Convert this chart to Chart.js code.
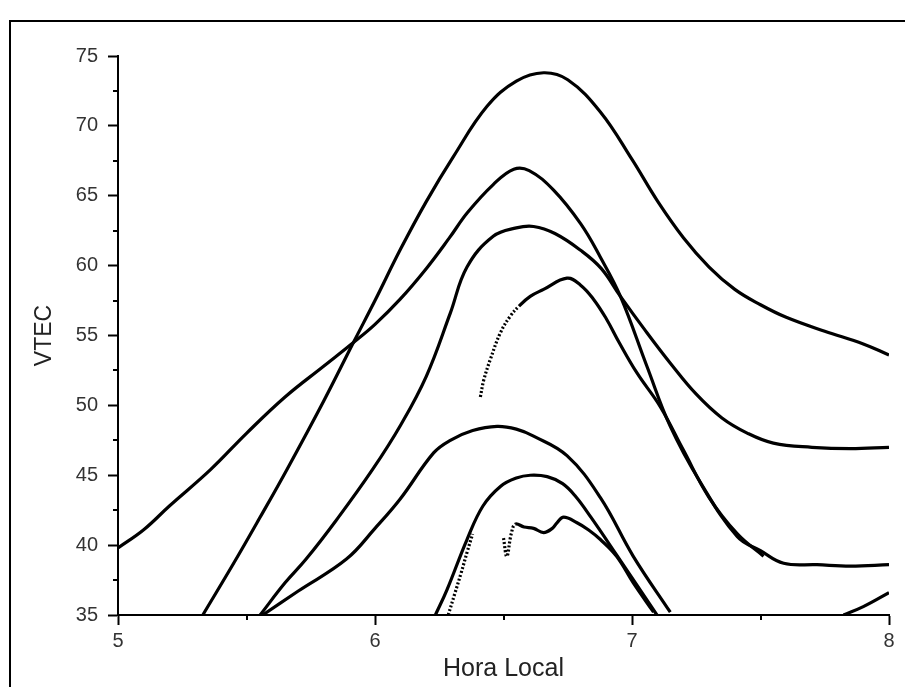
<!DOCTYPE html>
<html>
<head>
<meta charset="utf-8">
<script src="https://cdn.jsdelivr.net/npm/chart.js@4/dist/chart.umd.min.js"></script>
<style>
  html, body { margin: 0; padding: 0; background: #fff; }
  #wrap { width: 905px; height: 687px; }
</style>
</head>
<body>
<div id="wrap"><canvas id="c" width="905" height="687"></canvas></div>
<script>
// Vertical TEC passes, local hour vs. VTEC (TECU)
const passA_hora = [5.0, 5.1, 5.2, 5.36, 5.5, 5.65, 5.8, 5.916, 6.0, 6.098, 6.2, 6.29, 6.36, 6.46, 6.54, 6.6, 6.695, 6.8, 6.877, 6.955, 7.058, 7.149, 7.266, 7.41, 7.5, 7.59, 7.72, 7.85, 8.0];
const passA_vtec = [39.8, 41.1, 42.8, 45.4, 48.0, 50.6, 52.8, 54.5, 55.8, 57.6, 59.8, 62.0, 63.8, 65.8, 66.9, 66.8, 65.4, 63.0, 60.6, 57.8, 52.8, 48.5, 44.5, 40.6, 39.6, 38.7, 38.6, 38.5, 38.6];

const passB_hora = [5.33, 5.45, 5.55, 5.657, 5.8, 5.916, 6.0, 6.1, 6.2, 6.305, 6.436, 6.55, 6.656, 6.75, 6.877, 7.0, 7.1, 7.2, 7.3, 7.4, 7.5, 7.6, 7.75, 7.9, 8.0];
const passB_vtec = [35.0, 38.7, 41.9, 45.4, 50.3, 54.5, 57.5, 61.2, 64.6, 67.8, 71.4, 73.2, 73.8, 73.3, 71.0, 67.6, 64.6, 62.0, 59.9, 58.3, 57.2, 56.3, 55.3, 54.4, 53.6];

const passC_hora = [5.553, 5.65, 5.732, 5.85, 5.99, 6.1, 6.2, 6.293, 6.358, 6.46, 6.55, 6.617, 6.7, 6.8, 6.88, 6.955, 7.05, 7.15, 7.25, 7.35, 7.45, 7.55, 7.7, 7.85, 8.0];
const passC_vtec = [35.0, 37.3, 39.0, 41.8, 45.4, 48.6, 52.1, 56.6, 59.9, 62.1, 62.7, 62.8, 62.3, 61.1, 59.8, 57.8, 55.4, 53.0, 50.8, 49.1, 48.0, 47.3, 47.0, 46.9, 47.0];

const passD_hora = [6.41, 6.423, 6.449, 6.488, 6.527, 6.56, 6.604, 6.656, 6.747, 6.8, 6.85, 6.9, 6.95, 7.02, 7.11, 7.2, 7.3, 7.41, 7.512];
const passD_vtec = [50.6, 51.8, 53.3, 55.2, 56.4, 57.1, 57.8, 58.3, 59.1, 58.6, 57.6, 56.2, 54.5, 52.3, 49.9, 46.8, 43.4, 40.8, 39.2];

const passE_hora = [5.563, 5.7, 5.889, 6.0, 6.098, 6.228, 6.293, 6.38, 6.475, 6.55, 6.617, 6.747, 6.877, 7.005, 7.149];
const passE_vtec = [35.0, 36.7, 39.0, 41.2, 43.3, 46.6, 47.5, 48.2, 48.5, 48.3, 47.8, 46.4, 43.4, 39.2, 35.2];

const passF_hora = [6.235, 6.28, 6.358, 6.42, 6.488, 6.55, 6.604, 6.67, 6.73, 6.78, 6.84, 6.94, 7.097];
const passF_vtec = [35.0, 36.8, 40.4, 42.8, 44.2, 44.8, 45.0, 44.9, 44.4, 43.5, 42.0, 39.3, 35.0];

const passG_hora = [6.285, 6.31, 6.335, 6.36, 6.38];
const passG_vtec = [35.0, 36.5, 38.0, 39.6, 40.8];

const passH_hora = [6.5, 6.513, 6.53, 6.546, 6.58, 6.617, 6.656, 6.69, 6.708, 6.734, 6.786, 6.83, 6.877, 6.94, 7.005, 7.084];
const passH_vtec = [40.5, 39.2, 40.8, 41.5, 41.3, 41.2, 40.9, 41.2, 41.6, 42.0, 41.6, 41.1, 40.4, 39.2, 37.3, 35.2];

const passI_hora = [7.823, 7.9, 8.0];
const passI_vtec = [35.0, 35.6, 36.6];

const horaTicks = [5, 6, 7, 8];
const vtecTicks = [35, 40, 45, 50, 55, 60, 65, 70, 75];

const toPoints = (h, v) => h.map((x, i) => ({ x, y: v[i] }));

// sparse sampling at the start of some passes is drawn dotted
const dottedBelow = limit => ({
  borderDash: ctx => (ctx.p1.parsed.x <= limit ? [2, 2] : undefined)
});

const passes = [
  { h: passA_hora, v: passA_vtec },
  { h: passB_hora, v: passB_vtec },
  { h: passC_hora, v: passC_vtec },
  { h: passD_hora, v: passD_vtec, dotted: 6.56 },
  { h: passE_hora, v: passE_vtec },
  { h: passF_hora, v: passF_vtec },
  { h: passG_hora, v: passG_vtec, dotted: 9 },
  { h: passH_hora, v: passH_vtec, dotted: 6.55 },
  { h: passI_hora, v: passI_vtec }
];

const datasets = passes.map(p => ({
  data: toPoints(p.h, p.v),
  showLine: true,
  borderColor: '#000',
  borderWidth: 3.2,
  pointRadius: 0,
  tension: 0.4,
  segment: p.dotted ? dottedBelow(p.dotted) : undefined
}));

// outer frame and white page
const framePlugin = {
  id: 'frame',
  beforeDraw(chart) {
    const { ctx, width, height } = chart;
    ctx.save();
    ctx.fillStyle = '#fff';
    ctx.fillRect(0, 0, width, height);
    ctx.strokeStyle = '#000';
    ctx.lineWidth = 2;
    ctx.strokeRect(10, 21, width + 20, height + 20);
    ctx.restore();
  }
};

// half-step minor ticks on both axes
const minorTicksPlugin = {
  id: 'minorTicks',
  afterDraw(chart) {
    const { ctx, chartArea, scales: { x, y } } = chart;
    ctx.save();
    ctx.strokeStyle = '#000';
    ctx.lineWidth = 2;
    ctx.beginPath();
    for (let i = 0; i < horaTicks.length - 1; i++) {
      const px = Math.round(x.getPixelForValue((horaTicks[i] + horaTicks[i + 1]) / 2));
      ctx.moveTo(px, chartArea.bottom);
      ctx.lineTo(px, chartArea.bottom + 5);
    }
    for (let i = 0; i < vtecTicks.length - 1; i++) {
      const py = Math.round(y.getPixelForValue((vtecTicks[i] + vtecTicks[i + 1]) / 2));
      ctx.moveTo(chartArea.left - 5, py);
      ctx.lineTo(chartArea.left, py);
    }
    ctx.stroke();
    ctx.restore();
  }
};

const narrow = "'Liberation Sans Narrow', 'Liberation Sans', Arial, sans-serif";
const tickFont = { family: narrow, size: 20 };

new Chart(document.getElementById('c'), {
  type: 'scatter',
  data: { datasets },
  plugins: [framePlugin, minorTicksPlugin],
  options: {
    responsive: false,
    animation: false,
    layout: { padding: { top: 56, right: 16, left: 0, bottom: 0 } },
    plugins: { legend: { display: false }, tooltip: { enabled: false } },
    scales: {
      x: {
        type: 'linear',
        min: 5,
        max: 8,
        afterBuildTicks: s => { s.ticks = horaTicks.map(value => ({ value })); },
        afterFit: s => { s.height = 72; },
        ticks: { font: tickFont, color: '#333', padding: 4 },
        grid: { drawOnChartArea: false, tickLength: 10, tickWidth: 2, tickColor: '#000' },
        border: { display: true, color: '#000', width: 2 },
        title: {
          display: true,
          text: 'Hora Local',
          color: '#222',
          font: { family: "'Liberation Sans', Arial, sans-serif", size: 25 },
          padding: { top: 0, bottom: 3 }
        }
      },
      y: {
        type: 'linear',
        min: 35,
        max: 75,
        afterBuildTicks: s => { s.ticks = vtecTicks.map(value => ({ value })); },
        afterFit: s => { s.width = 118; },
        ticks: { font: tickFont, color: '#333', padding: 10 },
        grid: { drawOnChartArea: false, tickLength: 10, tickWidth: 2, tickColor: '#000' },
        border: { display: true, color: '#000', width: 2 },
        title: {
          display: true,
          text: 'VTEC',
          color: '#222',
          font: { family: "'Liberation Sans', Arial, sans-serif", size: 23 },
          padding: { top: 31, bottom: 0 }
        }
      }
    }
  }
});
</script>
</body>
</html>
